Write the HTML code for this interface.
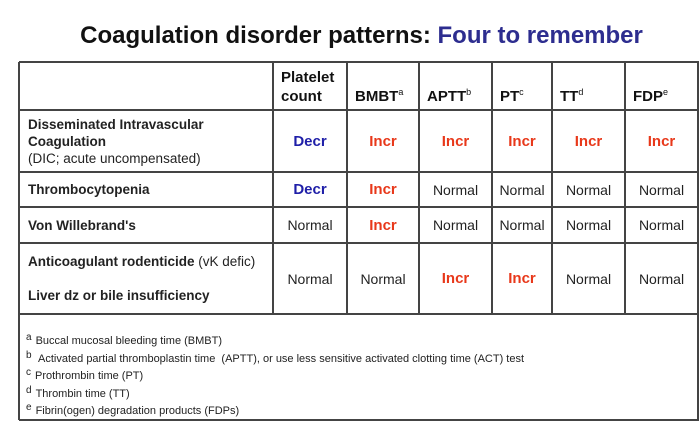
<!DOCTYPE html>
<html><head><meta charset="utf-8"><style>
*{margin:0;padding:0;box-sizing:border-box}
body{width:699px;height:421px;background:#fff;position:relative;overflow:hidden;font-family:"Liberation Sans",Arial,sans-serif;color:#222}
.t{position:absolute;left:0;width:723px;top:22px;text-align:center;font-weight:bold;font-size:24px;color:#111}
.t span{color:#2d2d8f}
.hl,.vl{position:absolute;background:#444}
.c{position:absolute;display:flex;align-items:center;justify-content:center;text-align:center;font-size:14px}
.h{font-weight:bold;font-size:15px;color:#111;justify-content:flex-start;align-items:flex-end;padding:0 0 4px 8px;text-align:left;line-height:19px}
.r{justify-content:flex-start;padding-left:9px;text-align:left;font-weight:bold;font-size:13.5px;color:#222;line-height:17px}
.r .n{font-weight:normal}
.dec{color:#1f1fa8;font-weight:bold;font-size:15px}
.inc{color:#e8381a;font-weight:bold;font-size:15px}
sup{font-size:9px;font-weight:normal;vertical-align:6px}
.fn{position:absolute;left:26px;top:331px;font-size:11px;line-height:14.5px;color:#222}
.fn sup{font-size:10px;vertical-align:4px;margin-right:4px}
</style></head><body>
<div class="t">Coagulation disorder patterns: <span>Four to remember</span></div>
<div id="grid"></div>
<div class="fn">
<div><sup>a</sup>Buccal mucosal bleeding time (BMBT)</div>
<div><sup>b</sup> Activated partial thromboplastin time &nbsp;(APTT), or use less sensitive activated clotting time (ACT) test</div>
<div><sup>c</sup>Prothrombin time (PT)</div>
<div><sup>d</sup>Thrombin time (TT)</div>
<div><sup>e</sup>Fibrin(ogen) degradation products (FDPs)</div>
</div>
<script>
const colX=[19,273,347,419,492,552,625,698];
const rowY=[62,110,172,207,243,314,420];
const headers=['Platelet<br>count','BMBT<sup>a</sup>','APTT<sup>b</sup>','PT<sup>c</sup>','TT<sup>d</sup>','FDP<sup>e</sup>'];
const rowLabels=['Disseminated Intravascular<br>Coagulation<br><span class="n">(DIC; acute uncompensated)</span>','Thrombocytopenia',"Von Willebrand's",'Anticoagulant rodenticide <span class="n">(vK defic)</span><br><br>Liver dz or bile insufficiency'];
const values=[['Decr','Incr','Incr','Incr','Incr','Incr'],['Decr','Incr','Normal','Normal','Normal','Normal'],['Normal','Incr','Normal','Normal','Normal','Normal'],['Normal','Normal','Incr','Incr','Normal','Normal']];
const g=document.getElementById('grid');
function add(cls,x,y,w,h,html,name){const d=document.createElement('div');d.className=cls;d.style.left=x+'px';d.style.top=y+'px';d.style.width=w+'px';d.style.height=h+'px';if(html!==undefined)d.innerHTML='<div>'+html+'</div>';


g.appendChild(d);return d;}
rowY.forEach((y,i)=>add('hl',19,y-1,680,2,undefined,'row-line'));
colX.forEach((x,i)=>add('vl',x-1,62,2,(i==0||i==7)?358:252,undefined,'col-line'));
headers.forEach((h,i)=>add('c h',colX[i+1],rowY[0],colX[i+2]-colX[i+1],rowY[1]-rowY[0],h,'header-cell'));
rowLabels.forEach((l,r)=>{add('c r',colX[0],rowY[r+1],colX[1]-colX[0],rowY[r+2]-rowY[r+1],l,'row-label');
values[r].forEach((v,i)=>add('c',colX[i+1],rowY[r+1],colX[i+2]-colX[i+1],rowY[r+2]-rowY[r+1],'<span class="'+(v=='Decr'?'dec':v=='Incr'?'inc':'')+'">'+v+'</span>','value-cell'));});
</script>
</body></html>
